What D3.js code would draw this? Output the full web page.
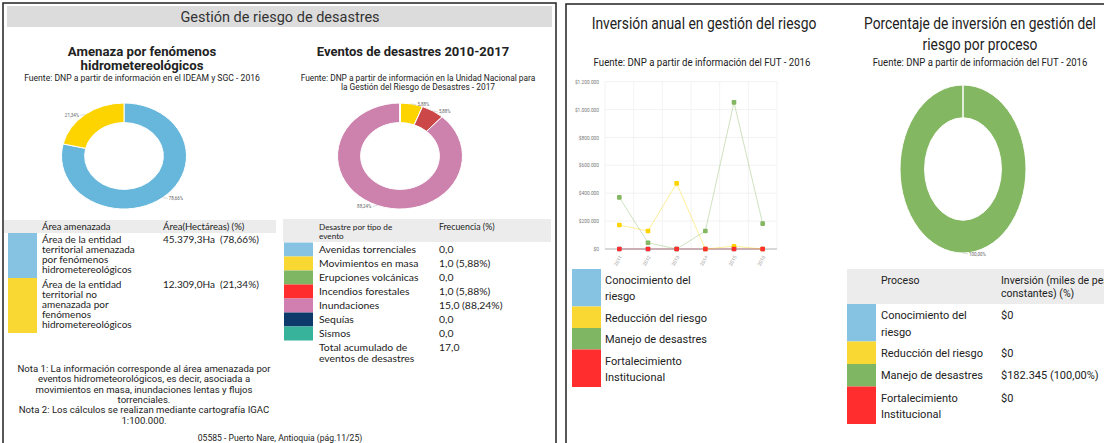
<!DOCTYPE html>
<html>
<head>
<meta charset="utf-8">
<script src="https://cdn.jsdelivr.net/npm/d3@7"></script>
<style>
  body { margin: 0; background: #fff; }
  svg { display: block; font-family: Roboto, sans-serif; }
</style>
</head>
<body>
<div id="chart"></div>
<script>
// ---- data ----
const amenazaLabels = [
  ["Área de la entidad", "territorial amenazada", "por fenómenos", "hidrometereológicos"],
  ["Área de la entidad", "territorial no", "amenazada por", "fenómenos", "hidrometereológicos"]
];
const amenazaHa = [45379.3, 12309.0];

const eventosCats = ["Avenidas torrenciales", "Movimientos en masa", "Erupciones volcánicas",
  "Incendios forestales", "Inundaciones", "Sequías", "Sismos"];
const eventosFreq = [0, 1, 0, 1, 15, 0, 0];

const years = ["2011", "2012", "2013", "2014", "2015", "2016"];
const invConocimiento = [0, 0, 0, 0, 0, 0];
const invReduccion = [172000, 129000, 471000, 0, 20000, 0];
const invManejo = [370000, 45000, 0, 129000, 1052000, 182345];
const invFortalecimiento = [0, 0, 0, 0, 0, 0];
const invTicks = [0, 200000, 400000, 600000, 800000, 1000000, 1200000];

const procesos = [["Conocimiento del", "riesgo"], ["Reducción del riesgo"], ["Manejo de desastres"], ["Fortalecimiento", "Institucional"]];
const procesoInv2016 = [0, 0, 182345, 0];

// colours
const donutAmenazaColors = ["#67b7dc", "#fdd400"];
const swatchAmenaza = ["#86c3e3", "#fad833"];
const donutEventoColors = ["#67b7dc", "#fdd400", "#84b761", "#cc4748", "#cd82ad", "#2f4074", "#448e4d"];
const swatchEvento = ["#86c3e3", "#fad833", "#7fb663", "#ff2d2d", "#d07fb0", "#0e3a6b", "#36b39a"];
const procesoColors = ["#86c3e3", "#fad833", "#7fb663", "#ff2d2d"];
const donutProcesoColors = ["#67b7dc", "#fdd400", "#84b761", "#cc4748"];

const loc = d3.formatLocale({ decimal: ",", thousands: ".", grouping: [3], currency: ["$", ""] });
const f1 = loc.format(",.1f");
const f2 = loc.format(",.2f");
const money = loc.format("$,.0f");

const svg = d3.select("#chart").append("svg")
  .attr("width", 1104)
  .attr("height", 443);

// panel frames
svg.append("path").attr("d", "M3,443V3H556V443").attr("fill", "none").attr("stroke", "#222").attr("stroke-width", 1.5);
svg.append("path").attr("d", "M566,443V4H1104").attr("fill", "none").attr("stroke", "#222").attr("stroke-width", 1.5);

// header bar
svg.append("rect").attr("x", 7).attr("y", 6).attr("width", 545).attr("height", 21).attr("fill", "#dcdcdc");
svg.append("text").attr("x", 280).attr("y", 21.5).attr("text-anchor", "middle")
  .style("font-size", "14.5px").style("fill", "#333").text("Gestión de riesgo de desastres");

function centeredLines(x, y0, lh, lines, size, weight, color) {
  const t = svg.append("text").attr("text-anchor", "middle")
    .style("font-size", size + "px").style("font-weight", weight).style("fill", color);
  lines.forEach((l, i) => t.append("tspan").attr("x", x).attr("y", y0 + i * lh).text(l));
  return t;
}

// condensed title text: squeeze horizontally to a target width
function squeezed(cx, yb, size, str, width) {
  const g = svg.append("g");
  const t = g.append("text").attr("text-anchor", "middle")
    .style("font-size", size + "px").style("fill", "#222").text(str);
  const natural = t.node().getComputedTextLength();
  g.attr("transform", `translate(${cx},${yb}) scale(${width / natural},1)`);
}

centeredLines(142, 56, 14, ["Amenaza por fenómenos", "hidrometereológicos"], 13.2, "bold", "#222");
centeredLines(142, 81, 9, ["Fuente: DNP a partir de información en el IDEAM y SGC - 2016"], 8.6, "normal", "#222");
centeredLines(413, 56, 13, ["Eventos de desastres 2010-2017"], 13, "bold", "#222");
centeredLines(418, 81, 9, ["Fuente: DNP a partir de información en la Unidad Nacional para",
  "la Gestión del Riesgo de Desastres - 2017"], 8.4, "normal", "#222");

// donut helper (ellipse via x scale)
function donut(cx, cy, rx, ry, inner, values, colors, labelFmt) {
  const pie = d3.pie().sort(null).value(d => d);
  const arcs = pie(values);
  const arc = d3.arc().innerRadius(ry * inner).outerRadius(ry);
  const g = svg.append("g").attr("transform", `translate(${cx},${cy}) scale(${rx / ry},1)`);
  g.selectAll("path").data(arcs).join("path")
    .attr("d", arc)
    .attr("fill", (d, i) => colors[i])
    .attr("stroke", "#fff")
    .attr("stroke-width", 1)
    .attr("vector-effect", "non-scaling-stroke");
  const total = d3.sum(values);
  arcs.filter(d => d.value > 0).forEach(d => {
    const a = (d.startAngle + d.endAngle) / 2;
    const px = cx + Math.sin(a) * rx, py = cy - Math.cos(a) * ry;
    const right = Math.sin(a) >= 0;
    const lx = px + (right ? 5 : -5);
    svg.append("line").attr("x1", px).attr("y1", py).attr("x2", lx).attr("y2", py + 1)
      .attr("stroke", "#bbb").attr("stroke-width", 0.5);
    svg.append("text").attr("x", lx + (right ? 1 : -1)).attr("y", py + 2.5)
      .attr("text-anchor", right ? "start" : "end")
      .style("font-size", "4.5px").style("fill", "#666")
      .text(labelFmt(d.value / total * 100));
  });
}

donut(124, 156, 62.5, 53, 0.63, amenazaHa, donutAmenazaColors, p => f2(p) + "%");
donut(400, 156, 62.5, 53, 0.63, eventosFreq, donutEventoColors, p => f2(p) + "%");

// ---- left table ----
const totalHa = d3.sum(amenazaHa);
svg.append("rect").attr("x", 4).attr("y", 220).attr("width", 272).attr("height", 13).attr("fill", "#ececec");
svg.append("text").attr("x", 42).attr("y", 230).style("font-family", "Lato, sans-serif").style("font-size", "9.5px").style("fill", "#222").text("Área amenazada");
svg.append("text").attr("x", 163).attr("y", 230).style("font-family", "Lato, sans-serif").style("font-size", "9.5px").style("fill", "#222").text("Área(Hectáreas) (%)");

let rowY = 233;
amenazaLabels.forEach((lines, i) => {
  const h = lines.length * 10 + 5;
  svg.append("rect").attr("x", 8).attr("y", rowY).attr("width", 29).attr("height", h).attr("fill", swatchAmenaza[i]);
  const t = svg.append("text").style("font-family", "Lato, sans-serif").style("font-size", "10px").style("fill", "#222");
  lines.forEach((l, j) => t.append("tspan").attr("x", 42).attr("y", rowY + 10 + j * 10).text(l));
  svg.append("text").attr("x", 163).attr("y", rowY + 10).style("font-family", "Lato, sans-serif").style("font-size", "10px").style("fill", "#222")
    .attr("xml:space", "preserve")
    .text(`${f1(amenazaHa[i])}Ha  (${f2(amenazaHa[i] / totalHa * 100)}%)`);
  rowY += h;
});

// ---- right table (eventos) ----
const totalEv = d3.sum(eventosFreq);
svg.append("rect").attr("x", 283).attr("y", 219).attr("width", 268).attr("height", 23).attr("fill", "#ececec");
const hdr = svg.append("text").style("font-family", "Lato, sans-serif").style("font-size", "8.2px").style("fill", "#222");
hdr.append("tspan").attr("x", 319).attr("y", 230).text("Desastre por tipo de");
hdr.append("tspan").attr("x", 319).attr("y", 239).text("evento");
svg.append("text").attr("x", 439).attr("y", 230).style("font-family", "Lato, sans-serif").style("font-size", "8.8px").style("fill", "#222").text("Frecuencia (%)");

const rowH = 14;
const ev = svg.append("g");
ev.selectAll("rect").data(eventosCats).join("rect")
  .attr("x", 284).attr("y", (d, i) => 242.5 + i * rowH)
  .attr("width", 29).attr("height", rowH)
  .attr("fill", (d, i) => swatchEvento[i]);
ev.selectAll("text.cat").data(eventosCats).join("text").attr("class", "cat")
  .attr("x", 319).attr("y", (d, i) => 252.5 + i * rowH)
  .style("font-family", "Lato, sans-serif").style("font-size", "10.4px").style("fill", "#222")
  .text(d => d);
ev.selectAll("text.val").data(eventosFreq).join("text").attr("class", "val")
  .attr("x", 439).attr("y", (d, i) => 252.5 + i * rowH)
  .style("font-family", "Lato, sans-serif").style("font-size", "10.4px").style("fill", "#222")
  .text(d => d > 0 ? `${f1(d)} (${f2(d / totalEv * 100)}%)` : f1(d));
const tot = svg.append("text").style("font-family", "Lato, sans-serif").style("font-size", "10.4px").style("fill", "#222");
tot.append("tspan").attr("x", 319).attr("y", 351).text("Total acumulado de");
tot.append("tspan").attr("x", 319).attr("y", 362).text("eventos de desastres");
svg.append("text").attr("x", 439).attr("y", 351).style("font-family", "Lato, sans-serif").style("font-size", "10.4px").style("fill", "#222").text(f1(totalEv));

// notes + footer
centeredLines(144, 372, 10.3, [
  "Nota 1: La información corresponde al área amenazada por",
  "eventos hidrometeorológicos, es decir, asociada a",
  "movimientos en masa, inundaciones lentas y flujos",
  "torrenciales.",
  "Nota 2: Los cálculos se realizan mediante cartografía IGAC",
  "1:100.000."], 9.6, "normal", "#222");
centeredLines(280, 441, 10, ["05585 - Puerto Nare, Antioquia (pág.11/25)"], 8.6, "normal", "#222");

// ---- right panel: line chart ----
squeezed(704, 29, 17, "Inversión anual en gestión del riesgo", 225);
squeezed(702, 66, 11, "Fuente: DNP a partir de información del FUT - 2016", 217);

const x = d3.scaleBand().domain(years).range([605, 777]);
const y = d3.scaleLinear().domain([0, 1200000]).range([249, 81.7]);

const gridG = svg.append("g");
gridG.selectAll("line.h").data(invTicks).join("line").attr("class", "h")
  .attr("x1", x.range()[0]).attr("x2", x.range()[1])
  .attr("y1", d => y(d)).attr("y2", d => y(d))
  .attr("stroke", "#eee").attr("stroke-width", 0.7);
gridG.selectAll("line.v").data(years.concat([null])).join("line").attr("class", "v")
  .attr("x1", d => d ? x(d) : x.range()[1]).attr("x2", d => d ? x(d) : x.range()[1])
  .attr("y1", y(1200000)).attr("y2", y(0))
  .attr("stroke", "#eee").attr("stroke-width", 0.7);
svg.append("line").attr("x1", x.range()[0]).attr("x2", x.range()[1]).attr("y1", y(0)).attr("y2", y(0))
  .attr("stroke", "#ccc").attr("stroke-width", 1.5);

const yAxis = svg.append("g").attr("transform", `translate(${x.range()[0] - 3},0)`)
  .call(d3.axisLeft(y).tickValues(invTicks).tickSize(0).tickFormat(money));
yAxis.select(".domain").remove();
yAxis.selectAll("text").style("font-size", "4.8px").style("fill", "#777").style("font-family", "Roboto, sans-serif");

const xAxis = svg.append("g").attr("transform", `translate(0,${y(0) + 4})`)
  .call(d3.axisBottom(x).tickSize(0));
xAxis.select(".domain").remove();
xAxis.selectAll("text").attr("transform", "rotate(-60)").attr("dy", "0.3em").attr("dx", "-0.4em")
  .style("text-anchor", "end").style("font-size", "4.8px").style("fill", "#999").style("font-family", "Roboto, sans-serif");

const series = [
  { values: invConocimiento, color: "#67b7dc" },
  { values: invManejo, color: "#84b761" },
  { values: invReduccion, color: "#fdd400" },
  { values: invFortalecimiento, color: "#ff2d2d" }
];
const line = d3.line().x((d, i) => x(years[i]) + x.bandwidth() / 2).y(d => y(d));
series.forEach(s => {
  svg.append("path").datum(s.values).attr("d", line)
    .attr("fill", "none").attr("stroke", s.color).attr("stroke-opacity", 0.4).attr("stroke-width", 1);
  svg.append("g").selectAll("rect").data(s.values).join("rect")
    .attr("x", (d, i) => x(years[i]) + x.bandwidth() / 2 - 2.3)
    .attr("y", d => y(d) - 2.3)
    .attr("width", 4.6).attr("height", 4.6).attr("rx", 0.8)
    .attr("fill", s.color);
});

// legend
let ly = 269;
procesos.forEach((lines, i) => {
  const h = lines.length === 2 ? 37.5 : 21.5;
  svg.append("rect").attr("x", 572).attr("y", ly).attr("width", 29).attr("height", h).attr("fill", procesoColors[i]);
  const t = svg.append("text").style("font-size", "11px").style("fill", "#222");
  lines.forEach((l, j) => t.append("tspan").attr("x", 605).attr("y", ly + 15 + j * 16).text(l));
  ly += h;
});

// ---- right panel: donut ----
squeezed(980, 29, 17, "Porcentaje de inversión en gestión del", 232);
squeezed(980, 50, 17, "riesgo por proceso", 115);
squeezed(980, 66, 11, "Fuente: DNP a partir de información del FUT - 2016", 215);

donut(963, 169, 63, 84, 0.61, procesoInv2016, donutProcesoColors, p => f2(p) + "%");

// process table
const totalProc = d3.sum(procesoInv2016);
svg.append("rect").attr("x", 847).attr("y", 269).attr("width", 257).attr("height", 35).attr("fill", "#ececec");
svg.append("text").attr("x", 881).attr("y", 284).style("font-size", "10.5px").style("fill", "#222").text("Proceso");
const ih = svg.append("text").style("font-size", "10.5px").style("fill", "#222");
ih.append("tspan").attr("x", 1001).attr("y", 284).text("Inversión (miles de pesos");
ih.append("tspan").attr("x", 1001).attr("y", 297).text("constantes) (%)");

let py = 304;
procesos.forEach((lines, i) => {
  const h = lines.length === 2 ? 37.5 : 22.5;
  svg.append("rect").attr("x", 847).attr("y", py).attr("width", 29).attr("height", h).attr("fill", procesoColors[i]);
  const t = svg.append("text").style("font-size", "11px").style("fill", "#222");
  lines.forEach((l, j) => t.append("tspan").attr("x", 881).attr("y", py + 15 + j * 16.5).text(l));
  const v = procesoInv2016[i];
  svg.append("text").attr("x", 1001).attr("y", py + 15).style("font-size", "11px").style("fill", "#222")
    .text(v > 0 ? `${money(v)} (${f2(v / totalProc * 100)}%)` : money(v));
  py += h;
});
</script>
</body>
</html>
